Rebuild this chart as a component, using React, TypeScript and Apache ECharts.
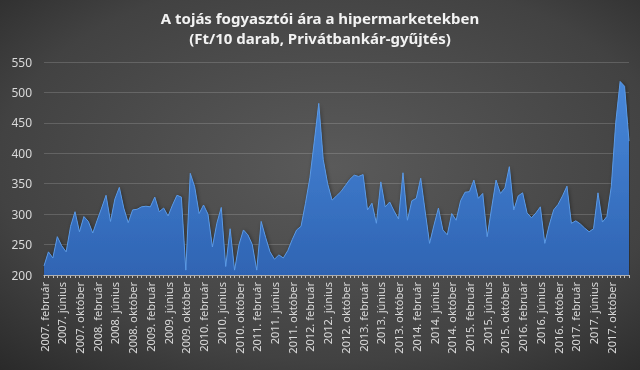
import React, { useEffect, useRef } from 'react';
import * as echarts from 'echarts';

const titleLines = ['A tojás fogyasztói ára a hipermarketekben', '(Ft/10 darab, Privátbankár-gyűjtés)'];
const monthNames = ['január', 'február', 'március', 'április', 'május', 'június', 'július', 'augusztus', 'szeptember', 'október', 'november', 'december'];
const firstYear = 2007;
const firstMonthIndex = 1; // február

// Monthly consumer price of eggs (Ft / 10 pcs), 2007. február – 2018. február
const prices = [
  215, 238, 228, 263, 248, 238, 280, 304, 271, 296,
  288, 269, 290, 310, 331, 288, 325, 344, 310, 286,
  307, 308, 312, 313, 312, 328, 304, 310, 297, 315,
  331, 328, 208, 367, 345, 301, 315, 300, 246, 285,
  311, 214, 276, 208, 250, 274, 266, 250, 208, 288,
  262, 238, 226, 233, 228, 240, 258, 274, 280, 318,
  360, 420, 482, 390, 350, 323, 330, 337, 347, 357,
  364, 362, 365, 307, 318, 285, 353, 312, 320, 305,
  292, 368, 290, 322, 326, 359, 305, 252, 282, 310,
  274, 266, 301, 290, 322, 336, 337, 356, 326, 334,
  263, 310, 356, 334, 343, 378, 307, 330, 335, 302,
  294, 302, 312, 252, 282, 307, 316, 330, 346, 285,
  289, 284, 277, 271, 276, 335, 287, 296, 345, 450,
  518, 510, 420,
];

const yMin = 200;
const yMax = 550;
const yStep = 50;
const labelEvery = 4;
const lastLabelled = '2017. október';

const categories = prices.map((_, k) => {
  const m = firstMonthIndex + k;
  return `${firstYear + Math.floor(m / 12)}. ${monthNames[m % 12]}`;
});
const lastLabelIndex = categories.indexOf(lastLabelled);

export default function App() {
  const ref = useRef<HTMLDivElement>(null);
  useEffect(() => {
    if (!ref.current) return;
    const chart = echarts.init(ref.current, undefined, { renderer: 'svg' });
    const font = 'Noto Sans';
    const titleStyle = { color: '#f2f2f2', fontSize: 15, fontWeight: 'bold', fontFamily: font };
    chart.setOption({
      animation: false,
      backgroundColor: {
        type: 'radial', x: 0.52, y: 0.45, r: 0.95,
        colorStops: [
          { offset: 0, color: '#5a5a5a' },
          { offset: 0.55, color: '#424242' },
          { offset: 1, color: '#161616' },
        ],
      },
      title: [
        { text: titleLines[0], left: 'center', top: 5, textStyle: titleStyle },
        { text: titleLines[1], left: 'center', top: 25, textStyle: titleStyle },
      ],
      grid: { left: 44, right: 11, top: 62, bottom: 95, containLabel: false },
      xAxis: {
        type: 'category',
        data: categories,
        boundaryGap: false,
        axisLine: { lineStyle: { color: '#bfbfbf', width: 1 } },
        axisTick: { show: true, interval: 0, length: 3, lineStyle: { color: '#bfbfbf' } },
        axisLabel: {
          interval: (idx: number) => idx % labelEvery === 0 && idx <= lastLabelIndex,
          rotate: 90, color: '#d9d9d9', fontSize: 11, fontFamily: font, margin: 7,
        },
        splitLine: { show: false },
      },
      yAxis: {
        type: 'value',
        min: yMin,
        max: yMax,
        interval: yStep,
        axisLine: { show: false },
        axisTick: { show: false },
        axisLabel: { color: '#d9d9d9', fontSize: 12, fontFamily: font, margin: 12 },
        splitLine: { lineStyle: { color: 'rgba(255,255,255,0.16)', width: 1 } },
      },
      series: [
        {
          type: 'line',
          data: prices,
          symbol: 'none',
          smooth: false,
          lineStyle: { color: '#5b9ae6', width: 1 },
          areaStyle: {
            origin: 'start',
            opacity: 1,
            color: {
              type: 'linear', x: 0, y: 0, x2: 0, y2: 1,
              colorStops: [
                { offset: 0, color: '#4888da' },
                { offset: 1, color: '#2f64b3' },
              ],
            },
            shadowColor: 'rgba(0,0,0,0.45)',
            shadowBlur: 4,
            shadowOffsetX: 1,
          },
        },
      ],
    });
    return () => chart.dispose();
  }, []);
  return <div ref={ref} style={{ position: 'fixed', left: 0, top: 0, width: 640, height: 370 }} />;
}
